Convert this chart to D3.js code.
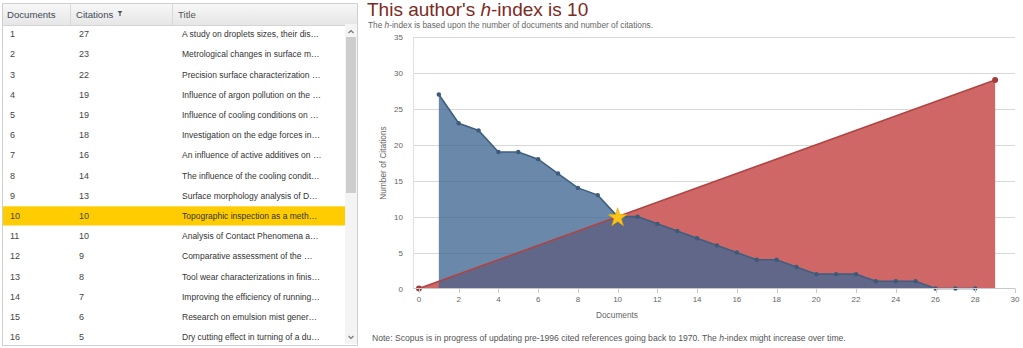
<!DOCTYPE html>
<html><head><meta charset="utf-8">
<script src="https://cdn.jsdelivr.net/npm/d3@7"></script>
<style>
html,body{margin:0;padding:0;background:#fff;font-family:"Liberation Sans",Arial,sans-serif;}
svg{display:block;}
</style></head>
<body>
<svg id="c" width="1023" height="348"></svg>
<script>
const documents = [1,2,3,4,5,6,7,8,9,10,11,12,13,14,15,16,17,18,19,20,21,22,23,24,25,26,27,28];
const citations = [27,23,22,19,19,18,16,14,13,10,10,9,8,7,6,5,4,4,3,2,2,2,1,1,1,0,0,0];
const titles = [
 "A study on droplets sizes, their dis\u2026",
 "Metrological changes in surface m\u2026",
 "Precision surface characterization \u2026",
 "Influence of argon pollution on the \u2026",
 "Influence of cooling conditions on \u2026",
 "Investigation on the edge forces in\u2026",
 "An influence of active additives on \u2026",
 "The influence of the cooling condit\u2026",
 "Surface morphology analysis of D\u2026",
 "Topographic inspection as a meth\u2026",
 "Analysis of Contact Phenomena a\u2026",
 "Comparative assessment of the \u2026",
 "Tool wear characterizations in finis\u2026",
 "Improving the efficiency of running\u2026",
 "Research on emulsion mist gener\u2026",
 "Dry cutting effect in turning of a du\u2026"
];
const visibleRows = 16;
const hIndex = 10;
const diagX = [0, 29];
const diagY = [0, 29];
const xTicks = [0,2,4,6,8,10,12,14,16,18,20,22,24,26,28,30];
const yTicks = [0,5,10,15,20,25,30,35];
const columns = ["Documents","Citations","Title"];

const svg = d3.select("#c");

// ---------- Table ----------
const tbl = svg.append("g");
const tX0 = 2, tX1 = 357, tY0 = 3, tY1 = 345, hdrH = 21, rowH = 20.2;
const colX = [tX0, 70, 172, 345];
const defs = svg.append("defs");
const hg = defs.append("linearGradient").attr("id","hg").attr("x1",0).attr("x2",0).attr("y1",0).attr("y2",1);
hg.append("stop").attr("offset","0%").attr("stop-color","#f7f7f7");
hg.append("stop").attr("offset","100%").attr("stop-color","#e6e6e6");
tbl.append("rect").attr("x",tX0+0.5).attr("y",tY0+0.5).attr("width",tX1-tX0).attr("height",tY1-tY0)
  .attr("fill","#fff").attr("stroke","#cfcfcf");
tbl.append("rect").attr("x",tX0+1).attr("y",tY0+1).attr("width",tX1-tX0-1).attr("height",hdrH)
  .attr("fill","url(#hg)");
tbl.append("line").attr("x1",tX0).attr("x2",tX1).attr("y1",tY0+hdrH+1.5).attr("y2",tY0+hdrH+1.5).attr("stroke","#d4d4d4");
[colX[1],colX[2]].forEach(x=>tbl.append("line").attr("x1",x+0.5).attr("x2",x+0.5).attr("y1",tY0+1).attr("y2",tY0+hdrH+1).attr("stroke","#d8d8d8"));
const hdrTx = [7, 76, 178];
columns.forEach((c,i)=>{
  tbl.append("text").attr("x",hdrTx[i]).attr("y",tY0+14.5).attr("font-size",9.6).attr("fill",i==2?"#555":"#3f4a56")
    .text(c);
});
// sort icon
tbl.append("path").attr("d","M117.5,11 h5 l-2.5,3 z M119.4,13.5 h1.2 v2.5 h-1.2 z").attr("fill","#555");

const rowTop = i => 23.5 + i*rowH;
for(let i=0;i<visibleRows;i++){
  const y = rowTop(i);
  if(documents[i]===hIndex){
    tbl.append("rect").attr("x",tX0+1).attr("y",y+1).attr("width",colX[3]-tX0-1).attr("height",rowH-1).attr("fill","#fecc00");
  }
  const cy = y + rowH/2 + 3.5;
  tbl.append("text").attr("x",10).attr("y",cy).attr("font-size",9).attr("fill","#444").text(documents[i]);
  tbl.append("text").attr("x",79).attr("y",cy).attr("font-size",9).attr("fill","#444").text(citations[i]);
  tbl.append("text").attr("x",182).attr("y",cy).attr("font-size",8.5).attr("fill","#333").text(titles[i]);
}
// scrollbar
tbl.append("rect").attr("x",345).attr("y",24).attr("width",12).attr("height",320).attr("fill","#f4f4f4");
tbl.append("rect").attr("x",346).attr("y",37).attr("width",10).attr("height",156).attr("fill","#cdcdcd");
tbl.append("path").attr("d","M348.5,33 l2.5,-2.5 l2.5,2.5").attr("fill","none").attr("stroke","#777").attr("stroke-width",1.2);
tbl.append("path").attr("d","M348.5,336 l2.5,2.5 l2.5,-2.5").attr("fill","none").attr("stroke","#777").attr("stroke-width",1.2);

// ---------- Chart ----------
const x = d3.scaleLinear().domain([-0.3,30]).range([413,1015]);
const y = d3.scaleLinear().domain([0,35]).range([288.5,37]);

const title = svg.append("text").attr("x",367).attr("y",15.5).attr("font-size",19).attr("fill","#7d2a24");
title.append("tspan").text("This author's ");
title.append("tspan").attr("font-style","italic").text("h");
title.append("tspan").text("-index is "+hIndex);
const sub = svg.append("text").attr("x",368).attr("y",27.5).attr("font-size",8.3).attr("fill","#666");
sub.append("tspan").text("The ");
sub.append("tspan").attr("font-style","italic").text("h");
sub.append("tspan").text("-index is based upon the number of documents and number of citations.");

// gridlines
svg.append("g").selectAll("line").data(yTicks.filter(d=>d>0)).join("line")
  .attr("x1",413).attr("x2",1015).attr("y1",d=>Math.round(y(d))+0.5).attr("y2",d=>Math.round(y(d))+0.5)
  .attr("stroke","#d8d8d8");
svg.append("line").attr("x1",413.5).attr("x2",413.5).attr("y1",37).attr("y2",288.5).attr("stroke","#e0e0e0");

// y tick labels
svg.append("g").selectAll("text").data(yTicks).join("text")
  .attr("x",403).attr("y",d=>y(d)+3).attr("text-anchor","end").attr("font-size",8).attr("fill","#666").text(d=>d);

// areas
const diag = diagX.map((d,i)=>({x:d,y:diagY[i]}));
const area = d3.area().x(d=>x(d.x)).y0(y(0)).y1(d=>y(d.y));
const line = d3.line().x(d=>x(d.x)).y(d=>y(d.y));
svg.append("path").datum(diag).attr("d",area).attr("fill","#d06767");
const blue = documents.map((d,i)=>({x:d,y:citations[i]}));
svg.append("path").datum(blue).attr("d",area).attr("fill","rgba(64,104,146,0.78)");
svg.append("path").datum(diag).attr("d",line).attr("fill","none").attr("stroke","#b04444").attr("stroke-width",1.6);
svg.append("path").datum(blue).attr("d",line).attr("fill","none").attr("stroke","#3f5f80").attr("stroke-width",1.6);
svg.append("g").selectAll("circle").data(blue).join("circle")
  .attr("cx",d=>x(d.x)).attr("cy",d=>y(d.y)).attr("r",2.2).attr("fill","#3c5a7a");
svg.append("g").selectAll("circle").data(diag).join("circle")
  .attr("cx",d=>x(d.x)).attr("cy",d=>y(d.y)).attr("r",3).attr("fill","#a33c3c");

// x axis
svg.append("line").attr("x1",413).attr("x2",1015).attr("y1",288.5).attr("y2",288.5).attr("stroke","#c8c8c8");
svg.append("g").selectAll("line").data(xTicks).join("line")
  .attr("x1",d=>Math.round(x(d))+0.5).attr("x2",d=>Math.round(x(d))+0.5).attr("y1",288.5).attr("y2",293)
  .attr("stroke","#c8c8c8");
svg.append("g").selectAll("text").data(xTicks).join("text")
  .attr("x",d=>x(d)).attr("y",302).attr("text-anchor","middle").attr("font-size",8).attr("fill","#666").text(d=>d);

// star
const star = d3.symbol().type(d3.symbolStar).size(110);
svg.append("path").attr("d",star()).attr("transform",`translate(${x(hIndex)},${y(hIndex)+1})`)
  .attr("fill","#fcc419").attr("stroke","#e0a800").attr("stroke-width",0.6);

// axis titles
svg.append("text").attr("transform","translate(386,163) rotate(-90)").attr("text-anchor","middle")
  .attr("font-size",8.3).attr("fill","#666").text("Number of Citations");
svg.append("text").attr("x",617).attr("y",318).attr("text-anchor","middle").attr("font-size",8.3).attr("fill","#666").text("Documents");

// note
const note = svg.append("text").attr("x",372).attr("y",341).attr("font-size",8.6).attr("fill","#555");
note.append("tspan").text("Note: Scopus is in progress of updating pre-1996 cited references going back to 1970. The ");
note.append("tspan").attr("font-style","italic").text("h");
note.append("tspan").text("-index might increase over time.");
</script>
</body></html>
